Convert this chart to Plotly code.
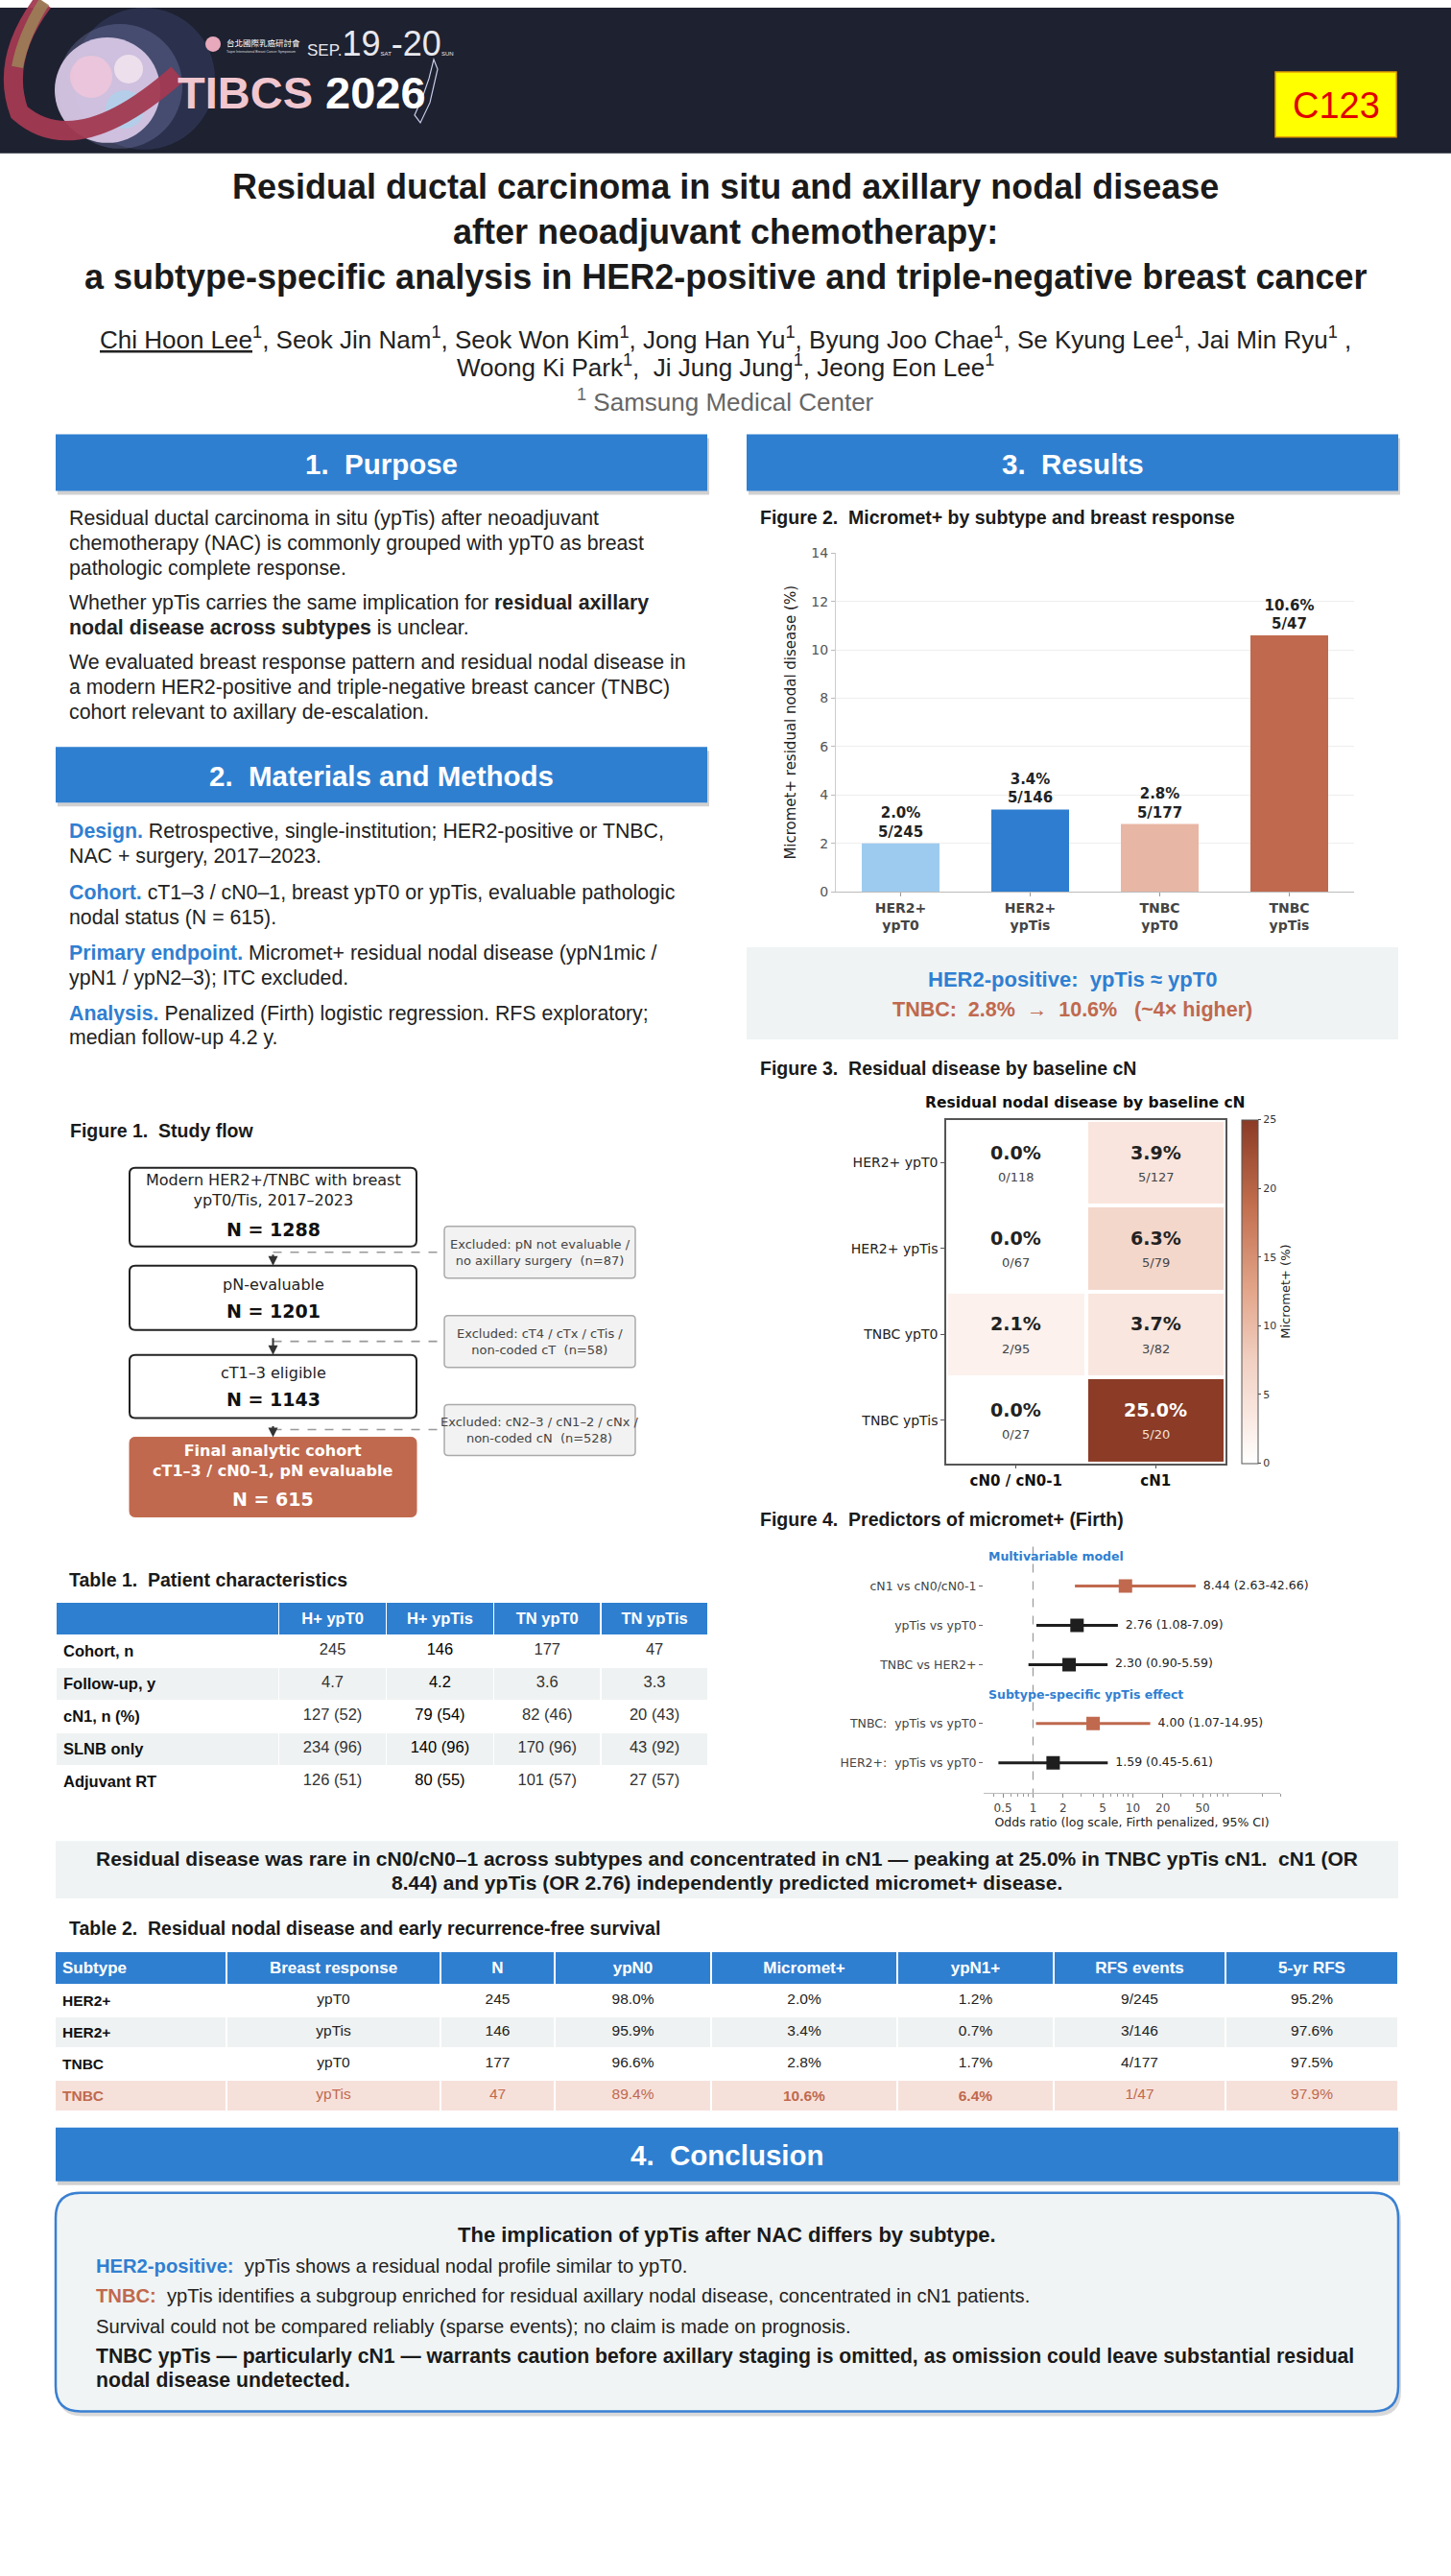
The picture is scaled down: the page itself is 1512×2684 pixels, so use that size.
import math
import plotly.graph_objects as go

W, H = 1512, 2684


def X(p):
    return p / W


def Y(p):
    q = (p - 6.0) / 0.995   # small calibration of vertical placement
    return 1 - q / H


def DY(d):
    return d / 0.995 / H


BLUE = "#2f7fd1"
TERRA = "#c0694e"
BANNER = "#1e2130"
SANS = "Liberation Sans, Arial, sans-serif"
DJ = "DejaVu Sans, sans-serif"

# ---------------- data ----------------
bar_cats = ["HER2+<br>ypT0", "HER2+<br>ypTis", "TNBC<br>ypT0", "TNBC<br>ypTis"]
bar_pct = [2.0, 3.4, 2.8, 10.6]
bar_events = [5, 5, 5, 5]
bar_n = [245, 146, 177, 47]
bar_colors = ["#9dcbef", "#2e7dd0", "#e8b6a5", "#c0694e"]

heat_rows = ["HER2+ ypT0", "HER2+ ypTis", "TNBC ypT0", "TNBC ypTis"]
heat_cols = ["cN0 / cN0-1", "cN1"]
heat_pct = [[0.0, 3.9], [0.0, 6.3], [2.1, 3.7], [0.0, 25.0]]
heat_frac = [["0/118", "5/127"], ["0/67", "5/79"], ["2/95", "3/82"], ["0/27", "5/20"]]

forest_groups = ["Multivariable model", "Multivariable model", "Multivariable model",
                 "Subtype-specific ypTis effect", "Subtype-specific ypTis effect"]
forest_labels = ["cN1 vs cN0/cN0-1", "ypTis vs ypT0", "TNBC vs HER2+",
                 "TNBC:  ypTis vs ypT0", "HER2+:  ypTis vs ypT0"]
forest_or = [8.44, 2.76, 2.30, 4.00, 1.59]
forest_lo = [2.63, 1.08, 0.90, 1.07, 0.45]
forest_hi = [42.66, 7.09, 5.59, 14.95, 5.61]
forest_hl = [True, False, False, True, False]
forest_ticks = [0.5, 1, 2, 5, 10, 20, 50]

flow_steps = ["Modern HER2+/TNBC with breast<br>ypT0/Tis, 2017–2023", "pN-evaluable",
              "cT1–3 eligible", "Final analytic cohort<br>cT1–3 / cN0–1, pN evaluable"]
flow_n = [1288, 1201, 1143, 615]
excl_labels = ["Excluded: pN not evaluable /<br>no axillary surgery",
               "Excluded: cT4 / cTx / cTis /<br>non-coded cT",
               "Excluded: cN2–3 / cN1–2 / cNx /<br>non-coded cN"]
excl_n = [87, 58, 528]

t1_cols = ["H+ ypT0", "H+ ypTis", "TN ypT0", "TN ypTis"]
t1_rows = ["Cohort, n", "Follow-up, y", "cN1, n (%)", "SLNB only", "Adjuvant RT"]
t1_hpt0 = ["245", "4.7", "127 (52)", "234 (96)", "126 (51)"]
t1_hptis = ["146", "4.2", "79 (54)", "140 (96)", "80 (55)"]
t1_tnt0 = ["177", "3.6", "82 (46)", "170 (96)", "101 (57)"]
t1_tntis = ["47", "3.3", "20 (43)", "43 (92)", "27 (57)"]

t2_header = ["Subtype", "Breast response", "N", "ypN0", "Micromet+", "ypN1+", "RFS events", "5-yr RFS"]
t2_subtype = ["HER2+", "HER2+", "TNBC", "TNBC"]
t2_resp = ["ypT0", "ypTis", "ypT0", "ypTis"]
t2_n = [245, 146, 177, 47]
t2_ypn0 = [98.0, 95.9, 96.6, 89.4]
t2_micromet = [2.0, 3.4, 2.8, 10.6]
t2_ypn1 = [1.2, 0.7, 1.7, 6.4]
t2_rfs_events = [9, 3, 4, 1]
t2_rfs5 = [95.2, 97.6, 97.5, 97.9]

# ---------------- helpers ----------------
shapes = []
ann = []


def rect(x0, y0, x1, y1, fill, line=None, lw=0, layer="below"):
    shapes.append(dict(type="rect", xref="paper", yref="paper",
                       x0=X(x0), x1=X(x1), y0=Y(y1), y1=Y(y0),
                       fillcolor=fill, line=dict(color=line or fill, width=lw), layer=layer))


def rrect(x0, y0, x1, y1, r, fill, line=None, lw=0, layer="below"):
    p = (f"M {X(x0 + r)},{Y(y0)} L {X(x1 - r)},{Y(y0)} Q {X(x1)},{Y(y0)} {X(x1)},{Y(y0 + r)} "
         f"L {X(x1)},{Y(y1 - r)} Q {X(x1)},{Y(y1)} {X(x1 - r)},{Y(y1)} "
         f"L {X(x0 + r)},{Y(y1)} Q {X(x0)},{Y(y1)} {X(x0)},{Y(y1 - r)} "
         f"L {X(x0)},{Y(y0 + r)} Q {X(x0)},{Y(y0)} {X(x0 + r)},{Y(y0)} Z")
    shapes.append(dict(type="path", xref="paper", yref="paper", path=p, fillcolor=fill,
                       line=dict(color=line or fill, width=lw), layer=layer))


def circle(cx, cy, r, fill, opacity=1.0):
    shapes.append(dict(type="circle", xref="paper", yref="paper",
                       x0=X(cx - r), x1=X(cx + r), y0=Y(cy + r), y1=Y(cy - r),
                       fillcolor=fill, line=dict(width=0), opacity=opacity, layer="below"))


def hline(x0, x1, y, color, width=1, dash="solid"):
    shapes.append(dict(type="line", xref="paper", yref="paper", x0=X(x0), x1=X(x1),
                       y0=Y(y), y1=Y(y), line=dict(color=color, width=width, dash=dash)))


def txt(x, y, s, size, color="#222", family=SANS, xanchor="left", yanchor="middle", **kw):
    ann.append(dict(x=X(x), y=Y(y), xref="paper", yref="paper", text=s, showarrow=False,
                    font=dict(size=size, color=color, family=family),
                    xanchor=xanchor, yanchor=yanchor, align="left" if xanchor == "left" else "center",
                    **kw))


def lines(x, y0, step, items, size, color="#222"):
    for k, s in enumerate(items):
        txt(x, y0 + step * k, s, size, color)


def section(x0, y0, x1, y1, title):
    rect(x0 + 2, y0 + 4, x1 + 2, y1 + 4, "rgba(0,0,0,0.18)")
    rect(x0, y0, x1, y1, BLUE)
    txt((x0 + x1) / 2, (y0 + y1) / 2 + 1, f"<b>{title}</b>", 29.5, "white", xanchor="center")


# ---------------- banner ----------------
shapes.append(dict(type="rect", xref="paper", yref="paper", x0=0, x1=1, y0=Y(158), y1=1,
                   fillcolor=BANNER, line=dict(width=0), layer="below"))
circle(150, 80, 74, "rgba(90,110,180,0.22)")
circle(125, 88, 65, "rgba(150,160,220,0.25)")
circle(112, 92, 55, "#d6c6e4", 0.95)
circle(95, 78, 22, "#f2c6da", 0.8)
circle(130, 112, 20, "#a9d4ee", 0.7)
circle(134, 70, 15, "#f6e6f0", 0.8)
shapes.append(dict(type="path", xref="paper", yref="paper", layer="below",
                   path=(f"M {X(45)},{Y(0)} Q {X(0)},{Y(60)} {X(20)},{Y(115)} "
                         f"Q {X(80)},{Y(168)} {X(185)},{Y(75)}"),
                   line=dict(color="#a33a52", width=20), opacity=0.95))
shapes.append(dict(type="path", xref="paper", yref="paper", layer="below",
                   path=f"M {X(46)},{Y(0)} Q {X(24)},{Y(35)} {X(18)},{Y(68)}",
                   line=dict(color="#9c8458", width=12), opacity=0.85))
circle(222, 44, 8, "#e7a9bb")
txt(234, 42, "台北國際乳癌研討會", 8.5, "white", family="Noto Sans CJK TC")
txt(234, 52, "Taipei International Breast Cancer Symposium", 3.5, "#ddd")
txt(318, 44, "SEP.<span style='font-size:36px'>19</span><span style='font-size:6px'>SAT</span>"
             "<span style='font-size:36px'>-20</span><span style='font-size:6px'>SUN</span>", 17, "#e8e8ee")
txt(183, 95, "<b><span style='color:#f0c6cf'>TIBCS</span> 2026</b>", 47, "white")
shapes.append(dict(type="path", xref="paper", yref="paper", layer="below",
                   path=(f"M {X(452)},{Y(60)} L {X(447)},{Y(80)} L {X(440)},{Y(100)} "
                         f"L {X(432)},{Y(118)} L {X(438)},{Y(126)} L {X(448)},{Y(105)} L {X(456)},{Y(70)} Z"),
                   line=dict(color="#c8cde8", width=1.2), fillcolor="rgba(0,0,0,0)"))

rect(1329, 73, 1455, 141, "#ffff00", "#e8a000", 1.5)
txt(1392, 108, "C123", 38, "#e00000", xanchor="center")

# ---------------- title ----------------
title_lines = ["Residual ductal carcinoma in situ and axillary nodal disease",
               "after neoadjuvant chemotherapy:",
               "a subtype-specific analysis in HER2-positive and triple-negative breast cancer"]
for i, s in enumerate(title_lines):
    txt(756, 193 + 47 * i, f"<b>{s}</b>", 36, "#1a1a1a", xanchor="center")
txt(756, 351, "<u>Chi Hoon Lee</u><sup>1</sup>, Seok Jin Nam<sup>1</sup>, Seok Won Kim<sup>1</sup>, "
              "Jong Han Yu<sup>1</sup>, Byung Joo Chae<sup>1</sup>, Se Kyung Lee<sup>1</sup>, "
              "Jai Min Ryu<sup>1</sup> ,", 26, "#222", xanchor="center")
txt(756, 380, "Woong Ki Park<sup>1</sup>,  Ji Jung Jung<sup>1</sup>, Jeong Eon Lee<sup>1</sup>",
    26, "#222", xanchor="center")
txt(756, 416, "<sup>1</sup> Samsung Medical Center", 26, "#666", xanchor="center")

# ---------------- sections ----------------
section(58, 451, 737, 510, "1.  Purpose")
section(58, 777, 737, 835, "2.  Materials and Methods")
section(778, 451, 1457, 510, "3.  Results")
section(58, 2217, 1457, 2273, "4.  Conclusion")

BODY = 21.3
lines(70, 539, 26, ["Residual ductal carcinoma in situ (ypTis) after neoadjuvant",
                    "chemotherapy (NAC) is commonly grouped with ypT0 as breast",
                    "pathologic complete response."], BODY)
lines(70, 627, 26, ["Whether ypTis carries the same implication for <b>residual axillary</b>",
                    "<b>nodal disease across subtypes</b> is unclear."], BODY)
lines(70, 689, 26, ["We evaluated breast response pattern and residual nodal disease in",
                    "a modern HER2-positive and triple-negative breast cancer (TNBC)",
                    "cohort relevant to axillary de-escalation."], BODY)


def lab(s):
    return f"<span style='color:{BLUE}'><b>{s}</b></span>"


lines(70, 865, 25.5, [lab("Design.") + " Retrospective, single-institution; HER2-positive or TNBC,",
                      "NAC + surgery, 2017–2023."], BODY)
lines(70, 929, 25.5, [lab("Cohort.") + " cT1–3 / cN0–1, breast ypT0 or ypTis, evaluable pathologic",
                      "nodal status (N = 615)."], BODY)
lines(70, 992, 25.5, [lab("Primary endpoint.") + " Micromet+ residual nodal disease (ypN1mic /",
                      "ypN1 / ypN2–3); ITC excluded."], BODY)
lines(70, 1055, 25.5, [lab("Analysis.") + " Penalized (Firth) logistic regression. RFS exploratory;",
                       "median follow-up 4.2 y."], BODY)

FIGT = 19.5

# ---------------- figure 1: flow ----------------
txt(71, 1177, "<b>Figure 1.  Study flow</b>", FIGT, "#1a1a1a")
box_y = [(1216, 1298), (1318, 1385), (1411, 1477), (1497, 1580)]
n_off = [18, 20, 20, 18]
bx0, bx1 = 135, 434
bcx = (bx0 + bx1) / 2
for i, (y0, y1) in enumerate(box_y):
    final = i == len(box_y) - 1
    if final:
        rrect(bx0, y0, bx1, y1, 6, TERRA, TERRA, 1)
    else:
        rrect(bx0, y0, bx1, y1, 6, "white", "#222", 2)
    col = "white" if final else "#222"
    nl = flow_steps[i].count("<br>") + 1
    label = f"<b>{flow_steps[i]}</b>" if final else flow_steps[i]
    n_y = y1 - n_off[i]
    lab_y = n_y - 27 - 13.5 * (nl - 1)
    txt(bcx, lab_y, label, 16, col, family=DJ, xanchor="center")
    txt(bcx, n_y, f"<b>N = {flow_n[i]}</b>", 19, col if final else "#111", family=DJ, xanchor="center")
    if i > 0:
        py0 = box_y[i - 1][1]
        ann.append(dict(x=X(bcx), y=Y(y0), xref="paper", yref="paper", ax=0, ay=-(y0 - py0),
                        showarrow=True, arrowhead=2, arrowsize=1, arrowwidth=2, arrowcolor="#333", text=" "))
ex_y = [(1277, 1331), (1370, 1424), (1463, 1516)]
dash_y = [1304, 1397, 1489]
for i, (y0, y1) in enumerate(ex_y):
    hline(bcx, 462, dash_y[i], "#999", 1.6, "dash")
    rrect(463, y0, 662, y1, 4, "#f2f2f2", "#aaa", 1.5)
    txt(562.5, (y0 + y1) / 2, f"{excl_labels[i]}  (n={excl_n[i]})", 13, "#444", family=DJ, xanchor="center")

# ---------------- table 1 ----------------
txt(70, 1646, "<b>Table 1.  Patient characteristics</b>", FIGT, "#1a1a1a")
GREY = "#eff2f2"
t1_fill = [GREY if i % 2 else "white" for i in range(len(t1_rows))]
t1_vals = [[f"<b>{r}</b>" for r in t1_rows], t1_hpt0, t1_hptis, t1_tnt0, t1_tntis]
t1_fc = [["#111"] * 5, ["#333"] * 5, ["#000"] * 5, ["#333"] * 5, ["#333"] * 5]
table1 = go.Table(
    domain=dict(x=[X(58), X(738)], y=[Y(1885), Y(1669)]),
    columnwidth=[233, 112, 112, 112, 112],
    header=dict(values=[""] + [f"<b>{c}</b>" for c in t1_cols], fill_color=BLUE,
                font=dict(color="white", size=16.5, family=SANS), align="center", height=30,
                line=dict(color="white", width=1.5)),
    cells=dict(values=t1_vals, fill_color=[t1_fill] * 5,
               align=["left", "center", "center", "center", "center"],
               font=dict(color=t1_fc, size=16.5, family=SANS), height=33,
               line=dict(color="white", width=1.5)),
)

# ---------------- figure 2: bars ----------------
txt(790, 538, "<b>Figure 2.  Micromet+ by subtype and breast response</b>", FIGT, "#1a1a1a")
bars = go.Bar(
    x=bar_cats, y=bar_pct, marker=dict(color=bar_colors, line=dict(width=0)), width=0.6,
    text=[f"<b>{p:.1f}%<br>{e}/{n}</b>" for p, e, n in zip(bar_pct, bar_events, bar_n)],
    textposition="outside", textfont=dict(size=15, color="#222", family=DJ),
    constraintext="none", cliponaxis=False, xaxis="x", yaxis="y", showlegend=False,
)
rect(778, 986, 1457, 1082, "#eff3f3")
txt(1117, 1019, "<b>HER2-positive:  ypTis ≈ ypT0</b>", 22, BLUE, xanchor="center")
txt(1117, 1051, "<b>TNBC:  2.8%  →  10.6%   (~4× higher)</b>", 21.5, TERRA, xanchor="center")

# ---------------- figure 3: heatmap ----------------
txt(790, 1112, "<b>Figure 3.  Residual disease by baseline cN</b>", FIGT, "#1a1a1a")
txt(1131, 1148, "<b>Residual nodal disease by baseline cN</b>", 15.5, "#111", family=DJ, xanchor="center")
heat_scale = [[0, "#ffffff"], [0.15, "#f9e6de"], [0.3, "#f1d0c2"], [0.5, "#e3a68b"],
              [0.75, "#c26f4e"], [1, "#8b3b26"]]
heat = go.Heatmap(
    z=heat_pct, x=heat_cols, y=heat_rows, zmin=0, zmax=25, colorscale=heat_scale,
    xgap=4, ygap=4, xaxis="x2", yaxis="y2", hoverinfo="skip",
    colorbar=dict(x=X(1294), xanchor="left", y=Y(1524), yanchor="bottom",
                  len=DY(1524 - 1166), lenmode="fraction", thickness=17, xpad=0, ypad=0,
                  outlinewidth=1, outlinecolor="#555", tickvals=[0, 5, 10, 15, 20, 25],
                  ticks="outside", ticklen=3, tickfont=dict(size=11, color="#333", family=DJ),
                  title=dict(text="Micromet+ (%)", side="right", font=dict(size=13, color="#222", family=DJ))),
)
for i, r in enumerate(heat_rows):
    for j, c in enumerate(heat_cols):
        v = heat_pct[i][j]
        dark = v > 15
        ann.append(dict(x=c, y=r, xref="x2", yref="y2", text=f"<b>{v:.1f}%</b>", showarrow=False,
                        yshift=11, font=dict(size=19, family=DJ, color="white" if dark else "#222")))
        ann.append(dict(x=c, y=r, xref="x2", yref="y2", text=heat_frac[i][j], showarrow=False,
                        yshift=-15, font=dict(size=13, family=DJ, color="#f3e3dc" if dark else "#444")))

# ---------------- figure 4: forest ----------------
txt(790, 1583, "<b>Figure 4.  Predictors of micromet+ (Firth)</b>", FIGT, "#1a1a1a")
pos = []
seen = []
for k, g in enumerate(forest_groups):
    if g not in seen:
        seen.append(g)
    pos.append(k + 0.5 * (len(seen) - 1))
forest_traces = []
for k in range(len(forest_labels)):
    col = TERRA if forest_hl[k] else "#1e1e1e"
    forest_traces.append(go.Scatter(x=[forest_lo[k], forest_hi[k]], y=[pos[k], pos[k]], mode="lines",
                                    line=dict(color=col, width=3), xaxis="x3", yaxis="y3",
                                    showlegend=False, hoverinfo="skip"))
    forest_traces.append(go.Scatter(x=[forest_or[k]], y=[pos[k]], mode="markers",
                                    marker=dict(symbol="square", size=14, color=col),
                                    xaxis="x3", yaxis="y3", showlegend=False, hoverinfo="skip"))
forest_traces.append(go.Scatter(
    x=forest_hi, y=pos, mode="text", textposition="middle right",
    text=[f"  {o:.2f} ({l:.2f}-{h:.2f})" for o, l, h in zip(forest_or, forest_lo, forest_hi)],
    textfont=dict(size=12.5, color="#222", family=DJ), xaxis="x3", yaxis="y3",
    showlegend=False, hoverinfo="skip", cliponaxis=False))
y_top = pos[0] - 1.0
y_bot = pos[-1] + 0.77
forest_traces.insert(0, go.Scatter(x=[1, 1], y=[y_top, y_bot], mode="lines",
                                   line=dict(color="#999", width=1.2, dash="dash"),
                                   xaxis="x3", yaxis="y3", showlegend=False, hoverinfo="skip"))
for g in seen:
    first = pos[forest_groups.index(g)]
    ann.append(dict(x=0.01, y=first - 0.75, xref="x3 domain", yref="y3", text=f"<b>{g}</b>",
                    showarrow=False, xanchor="left", font=dict(size=12.5, color=BLUE, family=DJ)))

# ---------------- statement + table 2 ----------------
rect(58, 1918, 1457, 1978, "#eff3f3")
txt(757, 1936, "<b>Residual disease was rare in cN0/cN0–1 across subtypes and concentrated in cN1 — "
               "peaking at 25.0% in TNBC ypTis cN1.  cN1 (OR</b>", 21, "#1a1a1a", xanchor="center")
txt(757, 1961, "<b>8.44) and ypTis (OR 2.76) independently predicted micromet+ disease.</b>",
    21, "#1a1a1a", xanchor="center")

txt(70, 2009, "<b>Table 2.  Residual nodal disease and early recurrence-free survival</b>", FIGT, "#1a1a1a")
PINK = "#f6e1da"
t2_fill_rows = ["white", GREY, "white", PINK]
hl_row = [False, False, False, True]


def pc(v):
    return f"{v:.1f}%"


t2_cols = [
    [f"<b>{s}</b>" for s in t2_subtype],
    t2_resp,
    [str(n) for n in t2_n],
    [pc(v) for v in t2_ypn0],
    [f"<b>{pc(v)}</b>" if h else pc(v) for v, h in zip(t2_micromet, hl_row)],
    [f"<b>{pc(v)}</b>" if h else pc(v) for v, h in zip(t2_ypn1, hl_row)],
    [f"{e}/{n}" for e, n in zip(t2_rfs_events, t2_n)],
    [pc(v) for v in t2_rfs5],
]
t2_fc = [[TERRA if h else ("#111" if c == 0 else "#222") for h in hl_row] for c in range(8)]
table2 = go.Table(
    domain=dict(x=[X(57), X(1457)], y=[Y(2214), Y(2033)]),
    columnwidth=[179, 223, 119, 163, 194, 163, 179, 180],
    header=dict(values=[f"<b>{h}</b>" for h in t2_header], fill_color=BLUE,
                font=dict(color="white", size=17, family=SANS),
                align=["left"] + ["center"] * 7, height=28, line=dict(color="white", width=1.5)),
    cells=dict(values=t2_cols, fill_color=[t2_fill_rows] * 8,
               align=["left"] + ["center"] * 7, font=dict(color=t2_fc, size=15.5, family=SANS),
               height=30, line=dict(color="white", width=1.5)),
)

# ---------------- conclusion ----------------
rrect(60, 2289, 1460, 2518, 26, "rgba(0,0,0,0.15)")
rrect(58, 2285, 1457, 2513, 26, "#f0f4f4", "#3a80d2", 2.5)
txt(757, 2329, "<b>The implication of ypTis after NAC differs by subtype.</b>", 22, "#1a1a1a", xanchor="center")
txt(98, 2361, f"<span style='color:{BLUE}'><b>HER2-positive:</b></span>  ypTis shows a residual nodal profile similar to ypT0.", 20.2, "#222")
txt(98, 2392, f"<span style='color:{TERRA}'><b>TNBC:</b></span>  ypTis identifies a subgroup enriched for residual axillary nodal disease, concentrated in cN1 patients.", 20.2, "#222")
txt(98, 2424, "Survival could not be compared reliably (sparse events); no claim is made on prognosis.", 20.2, "#222")
txt(98, 2455, "<b>TNBC ypTis — particularly cN1 — warrants caution before axillary staging is omitted, as omission could leave substantial residual</b>", 21.2, "#1a1a1a")
txt(98, 2480, "<b>nodal disease undetected.</b>", 21.2, "#1a1a1a")

# ---------------- assemble ----------------
fig = go.Figure([table1, table2, bars, heat] + forest_traces)
fig.update_layout(
    width=W, height=H, margin=dict(l=0, r=0, t=0, b=0),
    paper_bgcolor="white", plot_bgcolor="white", showlegend=False,
    font=dict(family=DJ, color="#222"),
    shapes=shapes, annotations=ann,
    xaxis=dict(domain=[X(871), X(1411)], range=[-0.5, 3.5], showline=True, linecolor="#bbb",
               ticks="outside", ticklen=4, tickcolor="#999", showgrid=False,
               tickfont=dict(size=14, color="#444", family=DJ), anchor="y",
               tickmode="array", tickvals=bar_cats, ticktext=[f"<b>{c}</b>" for c in bar_cats]),
    yaxis=dict(domain=[Y(928), Y(575)], range=[0, 14], dtick=2, showline=True, linecolor="#ccc",
               ticks="outside", ticklen=4, tickcolor="#bbb", gridcolor="#eeeeee", zeroline=False,
               tickfont=dict(size=14, color="#555", family=DJ), anchor="x",
               title=dict(text="Micromet+ residual nodal disease (%)", font=dict(size=15, color="#222", family=DJ),
                          standoff=12)),
    xaxis2=dict(domain=[X(986), X(1277)], anchor="y2", showline=True, mirror=True, linecolor="#555",
                linewidth=1.5, ticks="outside", ticklen=4, tickcolor="#555", showgrid=False,
                tickfont=dict(size=15, color="#111", family=DJ), tickmode="array", tickvals=heat_cols,
                ticktext=[f"<b>{c}</b>" for c in heat_cols]),
    yaxis2=dict(domain=[Y(1524), Y(1166)], anchor="x2", showline=True, mirror=True, linecolor="#555",
                linewidth=1.5, ticks="outside", ticklen=4, tickcolor="#555", showgrid=False,
                autorange="reversed", tickfont=dict(size=14, color="#222", family=DJ)),
    xaxis3=dict(domain=[X(1025), X(1334)], anchor="y3", type="log",
                range=[math.log10(0.32), math.log10(300)], showline=True, linecolor="#bbb",
                ticks="outside", ticklen=4, tickcolor="#888", showgrid=False, zeroline=False,
                tickmode="array", tickvals=forest_ticks, ticktext=[str(t) for t in forest_ticks],
                tickfont=dict(size=12, color="#444", family=DJ),
                minor=dict(tickvals=[0.4, 0.6, 0.7, 0.8, 0.9, 3, 4, 6, 7, 8, 9, 30, 40, 60, 70, 80, 90, 200, 300],
                           ticks="outside", ticklen=2.5, tickcolor="#999", showgrid=False),
                title=dict(text="Odds ratio (log scale, Firth penalized, 95% CI)",
                           font=dict(size=12.5, color="#222", family=DJ), standoff=4)),
    yaxis3=dict(domain=[Y(1868), Y(1605)], anchor="x3", range=[y_bot, y_top - 0.15],
                showline=False, showgrid=False, zeroline=False, ticks="outside", ticklen=4,
                tickcolor="#666", tickmode="array", tickvals=pos, ticktext=forest_labels,
                tickfont=dict(size=12.5, color="#444", family=DJ)),
)
fig.write_html("out.html", config={"displayModeBar": False},
               post_script=("document.documentElement.style.margin='0';"
                            "document.body.style.margin='0';document.body.style.padding='0';"
                            f"document.documentElement.style.background='{BANNER}';"
                            f"document.body.style.background='{BANNER}';"))
